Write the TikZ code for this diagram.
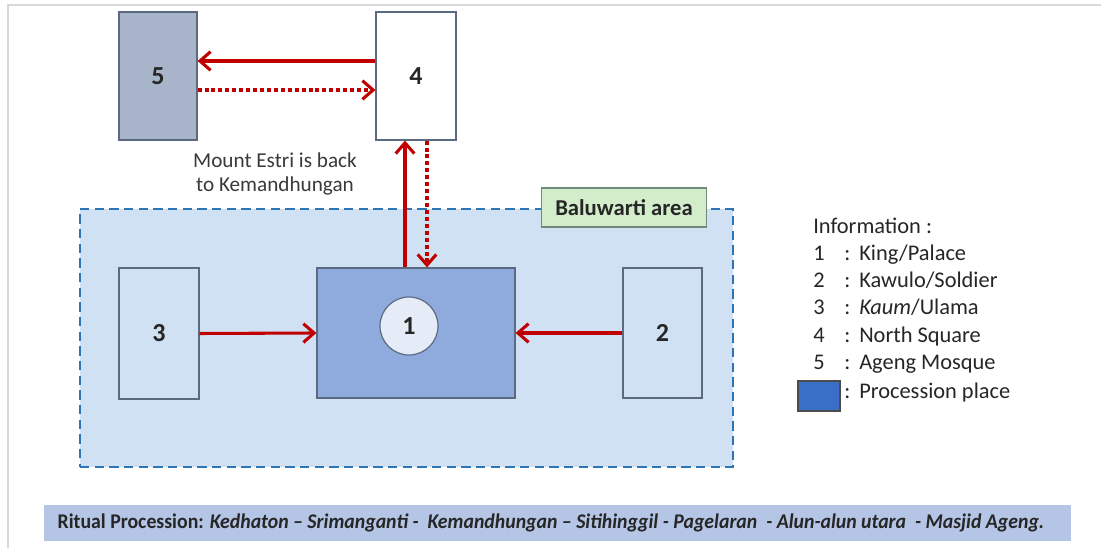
\documentclass[tikz,border=0pt]{standalone}
\usepackage{fontspec}
\setmainfont{Carlito}
\usetikzlibrary{arrows.meta}
\definecolor{arrred}{HTML}{C00000}
\definecolor{areafill}{HTML}{D0E1F3}
\definecolor{areadash}{HTML}{2E75B6}
\definecolor{boxline}{HTML}{5B6A80}
\definecolor{fivefill}{HTML}{A8B4CA}
\definecolor{onefill}{HTML}{8FAADC}
\definecolor{circfill}{HTML}{E6ECF7}
\definecolor{labelfill}{HTML}{D3EDCB}
\definecolor{labelline}{HTML}{6F8A7A}
\definecolor{barfill}{HTML}{B5C5E5}
\definecolor{legsq}{HTML}{3A6FC8}
\definecolor{txtgray}{HTML}{3A3A3A}
\definecolor{framegray}{HTML}{D9D9D9}
\tikzset{
  box/.style={draw=boxline, line width=0.9pt, inner sep=0pt, font=\fontsize{19.5pt}{21pt}\selectfont\bfseries, text=black!85},
  arr/.style={draw=arrred, line width=2.3pt, -{Straight Barb[length=8pt,width=14pt,line width=2.3pt]}},
  darr/.style={arr, dash pattern=on 3pt off 2.2pt},
  leg/.style={anchor=west, inner sep=0pt, text height=1.6ex, text depth=0.4ex, font=\fontsize{16.8pt}{18pt}\selectfont, text=black!85}
}
\begin{document}
\begin{tikzpicture}[x=0.75pt, y=-0.75pt]
\useasboundingbox (0,0) rectangle (1101,548);
\fill[white] (0,0) rectangle (1101,548);
\draw[framegray, line width=1.5pt] (1101,5) -- (8,5) -- (8,548);
% Baluwarti area
\node[draw=areadash, fill=areafill, line width=1.8pt, dash pattern=on 7pt off 4pt, minimum width={653*0.75pt}, minimum height={258*0.75pt}, inner sep=0pt] (area) at (406.5,338) {};
\node[draw=labelline, fill=labelfill, line width=0.8pt, minimum width={165*0.75pt}, minimum height={39*0.75pt}, inner sep=0pt, font=\fontsize{17pt}{19pt}\selectfont\bfseries, text=black!85] (arealabel) at (624,207.5) {Baluwarti area};
% boxes
\node[box, fill=fivefill, minimum width={78*0.75pt}, minimum height={128*0.75pt}] (b5) at (158,76) {5};
\node[box, fill=white, minimum width={80*0.75pt}, minimum height={128*0.75pt}] (b4) at (416,76) {4};
\node[box, fill=areafill, minimum width={80*0.75pt}, minimum height={131*0.75pt}] (b3) at (159,333.5) {3};
\node[box, fill=onefill, minimum width={198*0.75pt}, minimum height={130*0.75pt}] (b1) at (416,333) {};
\node[box, circle, fill=circfill, minimum size={58*0.75pt}] (c1) at (409,326) {1};
\node[box, fill=areafill, minimum width={79*0.75pt}, minimum height={130*0.75pt}] (b2) at (662.5,333) {2};
% arrows
\draw[arr] (b4.west |- 0,61) -- (b5.east |- 0,61);
\draw[darr] (b5.east |- 0,90) -- (b4.west |- 0,90);
\draw[arr] (b1.north -| 405,0) -- (b4.south -| 405,0);
\draw[darr] (b4.south -| 427,0) -- (b1.north -| 427,0);
\draw[arr] (b3.east) -- (b1.west);
\draw[arr] (b2.west) -- (b1.east);
% note
\node[align=center, inner sep=0pt, font=\fontsize{15.9pt}{17.5pt}\selectfont, text=txtgray] (note) at (275,174) {Mount Estri is back\\to Kemandhungan};
% legend
\node[leg] (info) at (813,230) {Information :};
\foreach \n/\t/\yy in {1/King\slash Palace/257, 2/Kawulo\slash Soldier/284, 3/\textit{Kaum}\slash Ulama/311, 4/North Square/339, 5/Ageng Mosque/366}{
  \node[leg] (ln\n) at (813,\yy) {\n};
  \node[leg] (lc\n) at (844,\yy) {:};
  \node[leg] (lt\n) at (859,\yy) {\t};
}
\node[draw=black!70, fill=legsq, line width=0.8pt, minimum width={42*0.75pt}, minimum height={30*0.75pt}, inner sep=0pt] (lsq) at (819,396) {};
\node[leg] (lc6) at (844,395) {:};
\node[leg] (lt6) at (859,395) {Procession place};
% bottom bar
\node[fill=barfill, minimum width={1027*0.75pt}, minimum height={36*0.75pt}, inner sep=0pt] (bar) at (557.5,523) {};
\node[inner sep=0pt, text=black!85] (bartext) at (551,523) {\resizebox{740pt}{11pt}{\bfseries Ritual Procession: \textit{Kedhaton -- Srimanganti -\ \ Kemandhungan -- Sitihinggil - Pagelaran\ \ - Alun-alun utara\ \ - Masjid Ageng.}}};
\end{tikzpicture}
\end{document}
